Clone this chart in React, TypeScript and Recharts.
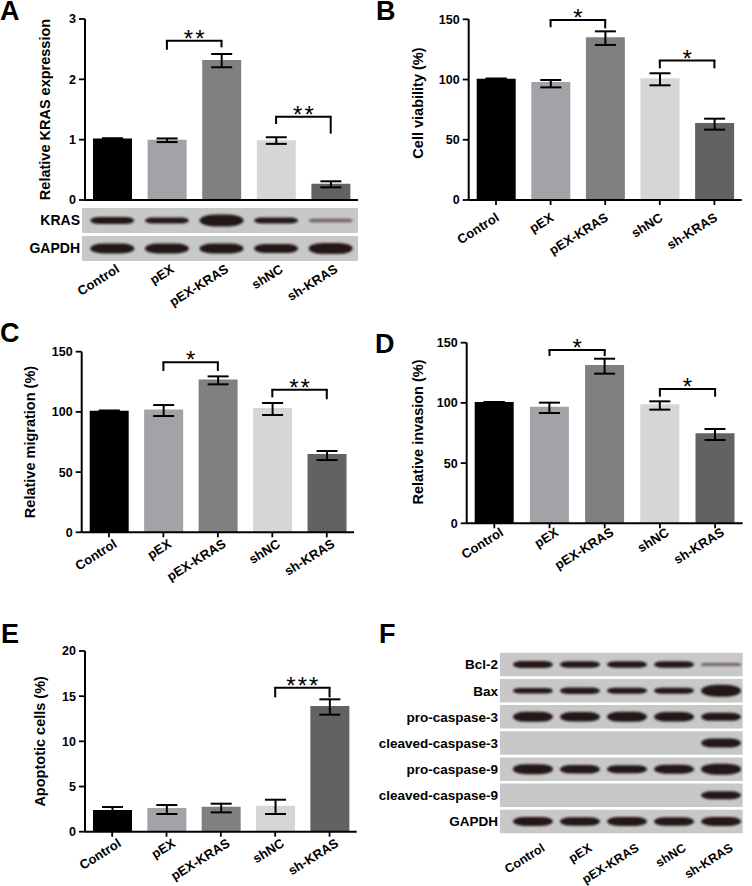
import React from 'react';
import {
  BarChart,
  Bar,
  Cell,
  XAxis,
  YAxis,
  ErrorBar,
  ReferenceLine,
  ReferenceArea,
  ComposedChart,
  Scatter
} from 'recharts';

const FONT = "'Liberation Sans', Arial, Helvetica, sans-serif";

const groups = ['Control', 'pEX', 'pEX-KRAS', 'shNC', 'sh-KRAS'];
const barColors = ['#000000', '#a2a2a7', '#808080', '#d6d6d6', '#626262'];

// A - relative KRAS expression
const kraMean = [1.02, 1.0, 2.32, 0.99, 0.27];
const kraLow = [1.02, 0.96, 2.2, 0.93, 0.21];
const kraHigh = [1.02, 1.02, 2.42, 1.04, 0.31];
const kraTicks = [0, 1, 2, 3];

// B - cell viability
const viaMean = [100.7, 98, 135, 101, 64];
const viaLow = [100.7, 93.5, 128.7, 95.2, 58.4];
const viaHigh = [100.7, 99.6, 140, 105.2, 67.5];

// C - relative migration
const migMean = [101, 102, 127, 103.2, 65];
const migLow = [101, 96.6, 122.9, 97.4, 60];
const migHigh = [101, 105.7, 129.5, 107.4, 67.5];

// D - relative invasion
const invMean = [100.7, 96.9, 131.5, 98.8, 74.7];
const invLow = [100.7, 91.6, 124.3, 94.4, 69.2];
const invHigh = [100.7, 100.2, 136.7, 101.3, 78.3];

const pctTicks = [0, 50, 100, 150];

// E - apoptotic cells
const apoMean = [2.4, 2.62, 2.77, 2.88, 13.9];
const apoLow = [2.0, 1.96, 2.14, 1.96, 12.95];
const apoHigh = [2.73, 2.95, 3.1, 3.54, 14.65];
const apoTicks = [0, 5, 10, 15, 20];

// significance brackets
const kraBrackets = [
  { from: 'pEX', to: 'pEX-KRAS', y: 2.64, yl: 2.49, yr: 2.53, text: '**' },
  { from: 'shNC', to: 'sh-KRAS', y: 1.38, yl: 1.26, yr: 1.1, text: '**' }
];
const viaBrackets = [
  { from: 'pEX', to: 'pEX-KRAS', y: 149.4, yl: 143.4, yr: 142.5, text: '*' },
  { from: 'shNC', to: 'sh-KRAS', y: 115.7, yl: 109.3, yr: 109.3, text: '*' }
];
const migBrackets = [
  { from: 'pEX', to: 'pEX-KRAS', y: 141.2, yl: 134, yr: 134, text: '*' },
  { from: 'shNC', to: 'sh-KRAS', y: 118.5, yl: 112, yr: 110.5, text: '**' }
];
const invBrackets = [
  { from: 'pEX', to: 'pEX-KRAS', y: 143.9, yl: 138.9, yr: 138.9, text: '*' },
  { from: 'shNC', to: 'sh-KRAS', y: 111.5, yl: 105.2, yr: 105.2, text: '*' }
];
const apoBrackets = [
  { from: 'shNC', to: 'sh-KRAS', y: 15.94, yl: 14.87, yr: 14.87, text: '***' }
];

// western blots: band thickness per lane (0 = no band)
const blotARows = ['KRAS', 'GAPDH'];
const blotABands = [
  [7, 6, 12, 6, 3.5],
  [10, 10, 10, 9, 11]
];
const blotFRows = [
  'Bcl-2',
  'Bax',
  'pro-caspase-3',
  'cleaved-caspase-3',
  'pro-caspase-9',
  'cleaved-caspase-9',
  'GAPDH'
];
const blotFBands = [
  [7, 6.5, 6.5, 6.5, 3],
  [5.5, 6.5, 6, 6, 12],
  [10, 9.5, 10, 9.5, 8],
  [0, 0, 0, 0, 9],
  [10, 8.5, 8, 9, 11],
  [0, 0, 0, 0, 8],
  [9, 8.5, 9, 8.5, 9]
];

const panelLetters = [
  { t: 'A', x: 0, y: 20 },
  { t: 'B', x: 376, y: 20 },
  { t: 'C', x: 0, y: 342 },
  { t: 'D', x: 375, y: 353 },
  { t: 'E', x: 1, y: 643 },
  { t: 'F', x: 379, y: 643 }
];

const ANGLE = 32;

const RotTick = (props: any) => {
  const { x, y, payload, shift, trX, trY, fs, names } = props;
  const a = (ANGLE * Math.PI) / 180;
  const cap = 0.72 * fs;
  const axisY = y - shift;
  const ax = x + trX + Math.sin(a) * cap;
  const ay = axisY + trY + Math.cos(a) * cap;
  const label = names ? names[payload.value] : payload.value;
  return (
    <text
      x={ax}
      y={ay}
      transform={`rotate(-${ANGLE} ${ax} ${ay})`}
      textAnchor="end"
      fontSize={fs}
      fontWeight="bold"
      fill="#000"
    >
      {label}
    </text>
  );
};

const StarLabel = (props: any) => {
  const vb = props.viewBox || { x: 0, y: 0, width: 0 };
  const cx = vb.x + (vb.width || 0) / 2;
  return (
    <text
      x={cx + 1}
      y={vb.y + 6}
      textAnchor="middle"
      fontSize={24}
      letterSpacing={2}
      fill="#000"
    >
      {props.text}
    </text>
  );
};

const Band = (props: any) => {
  const { cx, cy, payload, w } = props;
  const h = payload.h;
  const rx = Math.min(w / 2, h * 1.3);
  return (
    <rect
      x={cx - w / 2}
      y={cy - h / 2}
      width={w}
      height={h}
      rx={rx}
      ry={h / 2}
      fill="#1b1212"
      fillOpacity={h < 5 ? 0.55 : 0.95}
      filter="url(#bandBlur)"
    />
  );
};

function BarPanel(p: any) {
  const { box, plot, mean, low, high, domain, ticks, title, titleX, titleDy, brackets, lab } = p;
  const data = groups.map((g, i) => ({
    name: g,
    value: mean[i],
    err: [mean[i] - low[i], high[i] - mean[i]]
  }));
  const margin = { top: plot.t - box.y, right: box.x + box.w - plot.r, bottom: 0, left: 0 };
  const yW = plot.l - box.x;
  const xH = box.y + box.h - plot.b;
  const tx = titleX - box.x;
  const ty = (plot.t + plot.b) / 2 - box.y + titleDy;
  const ln = { stroke: '#000', strokeWidth: 2 };
  return (
    <div style={{ position: 'absolute', left: box.x, top: box.y }}>
      <BarChart width={box.w} height={box.h} data={data} margin={margin}>
        <XAxis
          dataKey="name"
          type="category"
          height={xH}
          interval={0}
          axisLine={ln}
          tickLine={{ stroke: '#000', strokeWidth: 1.8 }}
          tickSize={5}
          tickMargin={2}
          tick={
            lab
              ? (t: any) => <RotTick {...t} shift={7} trX={lab[0]} trY={lab[1]} fs={13} />
              : false
          }
        />
        <YAxis
          type="number"
          domain={domain}
          ticks={ticks}
          interval={0}
          allowDataOverflow
          width={yW}
          axisLine={ln}
          tickLine={{ stroke: '#000', strokeWidth: 1.8 }}
          tickSize={6}
          tickMargin={3}
          tick={{ fontSize: 12.5, fontWeight: 'bold', fill: '#000' }}
          label={() => (
            <text
              x={tx}
              y={ty}
              transform={`rotate(-90 ${tx} ${ty})`}
              textAnchor="middle"
              dominantBaseline="central"
              fontSize={14.5}
              fontWeight="bold"
              fill="#000"
            >
              {title}
            </text>
          )}
        />
        <Bar dataKey="value" barSize={39} isAnimationActive={false}>
          {data.map((d, i) => (
            <Cell key={d.name} fill={barColors[i]} />
          ))}
          <ErrorBar dataKey="err" width={10.5} strokeWidth={2} stroke="#000" direction="y" />
        </Bar>
        {brackets.map((b: any, k: number) => (
          <ReferenceLine
            key={`h${k}`}
            segment={[{ x: b.from, y: b.y }, { x: b.to, y: b.y }]}
            stroke="#000"
            strokeWidth={2}
            strokeLinecap="square"
            label={(lp: any) => <StarLabel {...lp} text={b.text} />}
          />
        ))}
        {brackets.map((b: any, k: number) => (
          <ReferenceLine
            key={`l${k}`}
            segment={[{ x: b.from, y: b.y }, { x: b.from, y: b.yl }]}
            stroke="#000"
            strokeWidth={2}
          />
        ))}
        {brackets.map((b: any, k: number) => (
          <ReferenceLine
            key={`r${k}`}
            segment={[{ x: b.to, y: b.y }, { x: b.to, y: b.yr }]}
            stroke="#000"
            strokeWidth={2}
          />
        ))}
      </BarChart>
    </div>
  );
}

function BlotPanel(p: any) {
  const { box, plot, rows, bands, xDomain, bandW, rowFs, xFs, lab } = p;
  const n = rows.length;
  const points = bands.flatMap((arr: number[], r: number) =>
    arr.map((h, lane) => ({ lane, row: r, h })).filter((q) => q.h > 0)
  );
  const margin = { top: plot.t - box.y, right: box.x + box.w - plot.r, bottom: 0, left: 0 };
  const yW = plot.l - box.x;
  const xH = box.y + box.h - plot.b;
  return (
    <div style={{ position: 'absolute', left: box.x, top: box.y }}>
      <ComposedChart width={box.w} height={box.h} margin={margin}>
        <XAxis
          type="number"
          dataKey="lane"
          domain={xDomain}
          allowDataOverflow
          ticks={[0, 1, 2, 3, 4]}
          interval={0}
          height={xH}
          axisLine={false}
          tickLine={false}
          tickSize={0}
          tickMargin={0}
          tick={(t: any) => (
            <RotTick {...t} shift={0} trX={lab[0]} trY={lab[1]} fs={xFs} names={groups} />
          )}
        />
        <YAxis
          type="number"
          dataKey="row"
          domain={[-0.5, n - 0.5]}
          allowDataOverflow
          reversed
          ticks={rows.map((_: string, i: number) => i)}
          interval={0}
          width={yW}
          axisLine={false}
          tickLine={false}
          tickSize={0}
          tickMargin={2}
          tickFormatter={(v: number) => rows[v]}
          tick={{ fontSize: rowFs, fontWeight: 'bold', fill: '#000' }}
        />
        {rows.map((r: string, i: number) => (
          <ReferenceArea
            key={r + i}
            x1={xDomain[0]}
            x2={xDomain[1]}
            y1={i - 0.45}
            y2={i + 0.45}
            fill="#c8c8c8"
            fillOpacity={1}
            stroke="none"
          />
        ))}
        <Scatter
          data={points}
          isAnimationActive={false}
          shape={(sp: any) => <Band {...sp} w={bandW} />}
        />
      </ComposedChart>
    </div>
  );
}

export default function App() {
  return (
    <div
      style={{
        position: 'absolute',
        left: 0,
        top: 0,
        width: 752,
        height: 886,
        background: '#fff',
        fontFamily: FONT,
        overflow: 'hidden'
      }}
    >
      <svg width={0} height={0} style={{ position: 'absolute' }}>
        <defs>
          <filter id="bandBlur" x="-20%" y="-150%" width="140%" height="400%">
            <feGaussianBlur stdDeviation="1.2" />
          </filter>
        </defs>
      </svg>

      <BarPanel
        box={{ x: 0, y: 0, w: 370, h: 206 }}
        plot={{ l: 85, t: 19, r: 358, b: 200 }}
        mean={kraMean}
        low={kraLow}
        high={kraHigh}
        domain={[0, 3]}
        ticks={kraTicks}
        title="Relative KRAS expression"
        titleX={45}
        titleDy={0}
        brackets={kraBrackets}
        lab={null}
      />
      <BlotPanel
        box={{ x: 0, y: 200, w: 370, h: 118 }}
        plot={{ l: 82, t: 206.5, r: 358, b: 262.5 }}
        rows={blotARows}
        bands={blotABands}
        xDomain={[-0.555, 4.5]}
        bandW={44}
        rowFs={14}
        xFs={13}
        lab={[3, 1]}
      />
      <BarPanel
        box={{ x: 376, y: 0, w: 376, h: 270 }}
        plot={{ l: 468.7, t: 19.3, r: 741.7, b: 200 }}
        mean={viaMean}
        low={viaLow}
        high={viaHigh}
        domain={[0, 150]}
        ticks={pctTicks}
        title="Cell viability (%)"
        titleX={417.7}
        titleDy={-6.6}
        brackets={viaBrackets}
        lab={[-1, 12]}
      />
      <BarPanel
        box={{ x: 0, y: 320, w: 376, h: 290 }}
        plot={{ l: 81.7, t: 351.7, r: 354, b: 532.3 }}
        mean={migMean}
        low={migLow}
        high={migHigh}
        domain={[0, 150]}
        ticks={pctTicks}
        title="Relative migration (%)"
        titleX={30}
        titleDy={0}
        brackets={migBrackets}
        lab={[4, 6]}
      />
      <BarPanel
        box={{ x: 376, y: 320, w: 376, h: 290 }}
        plot={{ l: 466.7, t: 342.7, r: 742.7, b: 523.3 }}
        mean={invMean}
        low={invLow}
        high={invHigh}
        domain={[0, 150]}
        ticks={pctTicks}
        title="Relative invasion (%)"
        titleX={417.7}
        titleDy={-1}
        brackets={invBrackets}
        lab={[5, 3.5]}
      />
      <BarPanel
        box={{ x: 0, y: 620, w: 376, h: 266 }}
        plot={{ l: 85, t: 651, r: 356.7, b: 831.7 }}
        mean={apoMean}
        low={apoLow}
        high={apoHigh}
        domain={[0, 20]}
        ticks={apoTicks}
        title="Apoptotic cells (%)"
        titleX={40}
        titleDy={0}
        brackets={apoBrackets}
        lab={[5, 6]}
      />
      <BlotPanel
        box={{ x: 376, y: 630, w: 376, h: 256 }}
        plot={{ l: 500, t: 651.5, r: 742.7, b: 834.5 }}
        rows={blotFRows}
        bands={blotFBands}
        xDomain={[-0.7, 4.46]}
        bandW={40}
        rowFs={13.5}
        xFs={12.5}
        lab={[8, 8]}
      />

      <svg
        width={752}
        height={886}
        style={{ position: 'absolute', left: 0, top: 0, pointerEvents: 'none' }}
      >
        {panelLetters.map((l) => (
          <text key={l.t} x={l.x} y={l.y} fontSize={27} fontWeight="bold" fill="#000">
            {l.t}
          </text>
        ))}
      </svg>
    </div>
  );
}
